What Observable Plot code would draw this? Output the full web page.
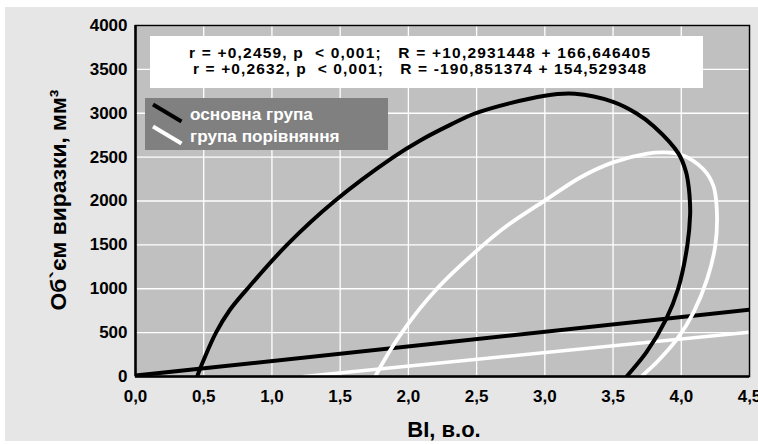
<!DOCTYPE html>
<html>
<head>
<meta charset="utf-8">
<script src="https://cdn.jsdelivr.net/npm/d3@7"></script>
<script src="https://cdn.jsdelivr.net/npm/@observablehq/plot@0.6"></script>
<style>
  html, body { margin: 0; padding: 0; background: white; }
  #wrap { position: relative; width: 758px; height: 444px; background: white; overflow: hidden; }
  #bg { position: absolute; left: 5px; top: 7px; width: 753px; height: 434px; background: #e6e6e6; }
  #chart { position: absolute; left: 0; top: 0; }
</style>
</head>
<body>
<div id="wrap"><div id="bg"></div><div id="chart"></div></div>
<script>
// ---- data ----
const xTicks = [0, 0.5, 1, 1.5, 2, 2.5, 3, 3.5, 4, 4.5];
const yTicks = [0, 500, 1000, 1500, 2000, 2500, 3000, 3500, 4000];

const seriesNames = ["основна група", "група порівняння"];
const equations = [
  "r = +0,2459, p  < 0,001;   R = +10,2931448 + 166,646405",
  "r = +0,2632, p  < 0,001;   R = -190,851374 + 154,529348"
];

// regression lines [BI, volume]
const mainLine = [[0, 10.3], [4.5, 760.2]];
const compLine = [[1.235, 0], [4.5, 504.5]];

// confidence ellipse outlines [BI, volume]
const mainEllipse = [
  [0.425, -160], [0.452, 0], [0.508, 220], [0.59, 500], [0.69, 755], [0.82, 1000],
  [1.11, 1500], [1.46, 2000], [1.89, 2500], [2.087, 2690], [2.31, 2870], [2.5, 3005],
  [3.0, 3200], [3.22, 3222], [3.5, 3130], [3.67, 3000], [3.8, 2850], [3.98, 2540],
  [4.035, 2330], [4.055, 2150], [4.063, 2000], [4.065, 1850], [4.045, 1500],
  [3.977, 1000], [3.89, 657], [3.745, 277], [3.6, 0], [3.54, -110]
];
const compEllipse = [
  [1.725, -110], [1.757, 0], [1.952, 500], [2.209, 1000], [2.55, 1500],
  [2.72, 1715], [3.0, 2005], [3.26, 2268], [3.5, 2440], [3.75, 2540], [3.87, 2555],
  [4.0, 2528], [4.16, 2365], [4.235, 2175], [4.26, 1910], [4.25, 1500], [4.19, 1113],
  [4.09, 732], [3.97, 429], [3.82, 163], [3.71, 0], [3.665, -80]
];

const xTitle = "BI, в.о.";
const yTitle = "Об`єм виразки, мм³";

const FONT = "'Liberation Sans', Arial, sans-serif";
const fmtX = d => d.toFixed(1).replace(".", ",");

const plot = Plot.plot({
  width: 758,
  height: 444,
  marginLeft: 135,
  marginRight: 9,
  marginTop: 25,
  marginBottom: 68,
  style: { background: "transparent", fontFamily: FONT, fontWeight: "bold", fontSize: "17px", color: "black", overflow: "visible" },
  x: { domain: [0, 4.5], ticks: xTicks, tickFormat: fmtX, label: null },
  y: { domain: [0, 4000], ticks: yTicks, tickFormat: d => String(d), label: null },
  marks: [
    Plot.frame({ fill: "#c0c0c0" }),
    Plot.gridX(xTicks, { stroke: "white", strokeOpacity: 1, strokeWidth: 1.3 }),
    Plot.gridY(yTicks, { stroke: "white", strokeOpacity: 1, strokeWidth: 1.3 }),
    Plot.axisX(xTicks, { tickSize: 0, tickPadding: 13, tickFormat: fmtX, fontSize: 17, fontWeight: "bold", fill: "black" }),
    Plot.axisY(yTicks, { tickSize: 0, tickPadding: 8, tickFormat: d => String(d), fontSize: 17, fontWeight: "bold", fill: "black" }),
    Plot.line(compLine, { x: d => d[0], y: d => d[1], stroke: "white", strokeWidth: 3.5, clip: true }),
    Plot.line(mainLine, { x: d => d[0], y: d => d[1], stroke: "black", strokeWidth: 4, clip: true }),
    Plot.line(compEllipse, { x: d => d[0], y: d => d[1], stroke: "white", strokeWidth: 3.8, curve: "catmull-rom", clip: true }),
    Plot.line(mainEllipse, { x: d => d[0], y: d => d[1], stroke: "black", strokeWidth: 4, curve: "catmull-rom", clip: true }),
    Plot.frame({ stroke: "black", strokeWidth: 1.5 }),
    Plot.ruleX([0], { stroke: "black", strokeWidth: 2.5 }),
    Plot.ruleY([0], { stroke: "black", strokeWidth: 2.5 })
  ]
});
document.getElementById("chart").appendChild(plot);

// ---- annotations ----
const svg = d3.select(plot);
const ann = svg.append("g").attr("font-family", FONT).attr("font-weight", "bold").attr("text-anchor", "start");

// equation box
ann.append("rect").attr("x", 150).attr("y", 36).attr("width", 553).attr("height", 52).attr("fill", "white");
ann.append("text").attr("x", 189).attr("y", 57.5).attr("font-size", 15.5).attr("text-anchor", "start")
  .attr("textLength", 461).attr("lengthAdjust", "spacing").attr("fill", "black").text(equations[0]);
ann.append("text").attr("x", 193).attr("y", 73.5).attr("font-size", 15.5).attr("text-anchor", "start")
  .attr("textLength", 453).attr("lengthAdjust", "spacing").attr("fill", "black").text(equations[1]);

// legend box
ann.append("rect").attr("x", 145).attr("y", 98).attr("width", 243).attr("height", 52).attr("fill", "#808080");
ann.append("line").attr("x1", 153).attr("y1", 104.5).attr("x2", 181.5).attr("y2", 121.5).attr("stroke", "black").attr("stroke-width", 4);
ann.append("line").attr("x1", 153).attr("y1", 126.5).attr("x2", 181.5).attr("y2", 143.5).attr("stroke", "white").attr("stroke-width", 4);
ann.append("text").attr("x", 190).attr("y", 120).attr("font-size", 17.2).attr("text-anchor", "start").attr("fill", "white").text(seriesNames[0]);
ann.append("text").attr("x", 190).attr("y", 142).attr("font-size", 17.2).attr("text-anchor", "start").attr("fill", "white").text(seriesNames[1]);

// axis titles
ann.append("text").attr("x", 444).attr("y", 437).attr("font-size", 22).attr("text-anchor", "middle").attr("fill", "black").text(xTitle);
ann.append("text").attr("transform", "translate(66,200) rotate(-90)").attr("font-size", 22.8).attr("text-anchor", "middle").attr("fill", "black").text(yTitle);
</script>
</body>
</html>
